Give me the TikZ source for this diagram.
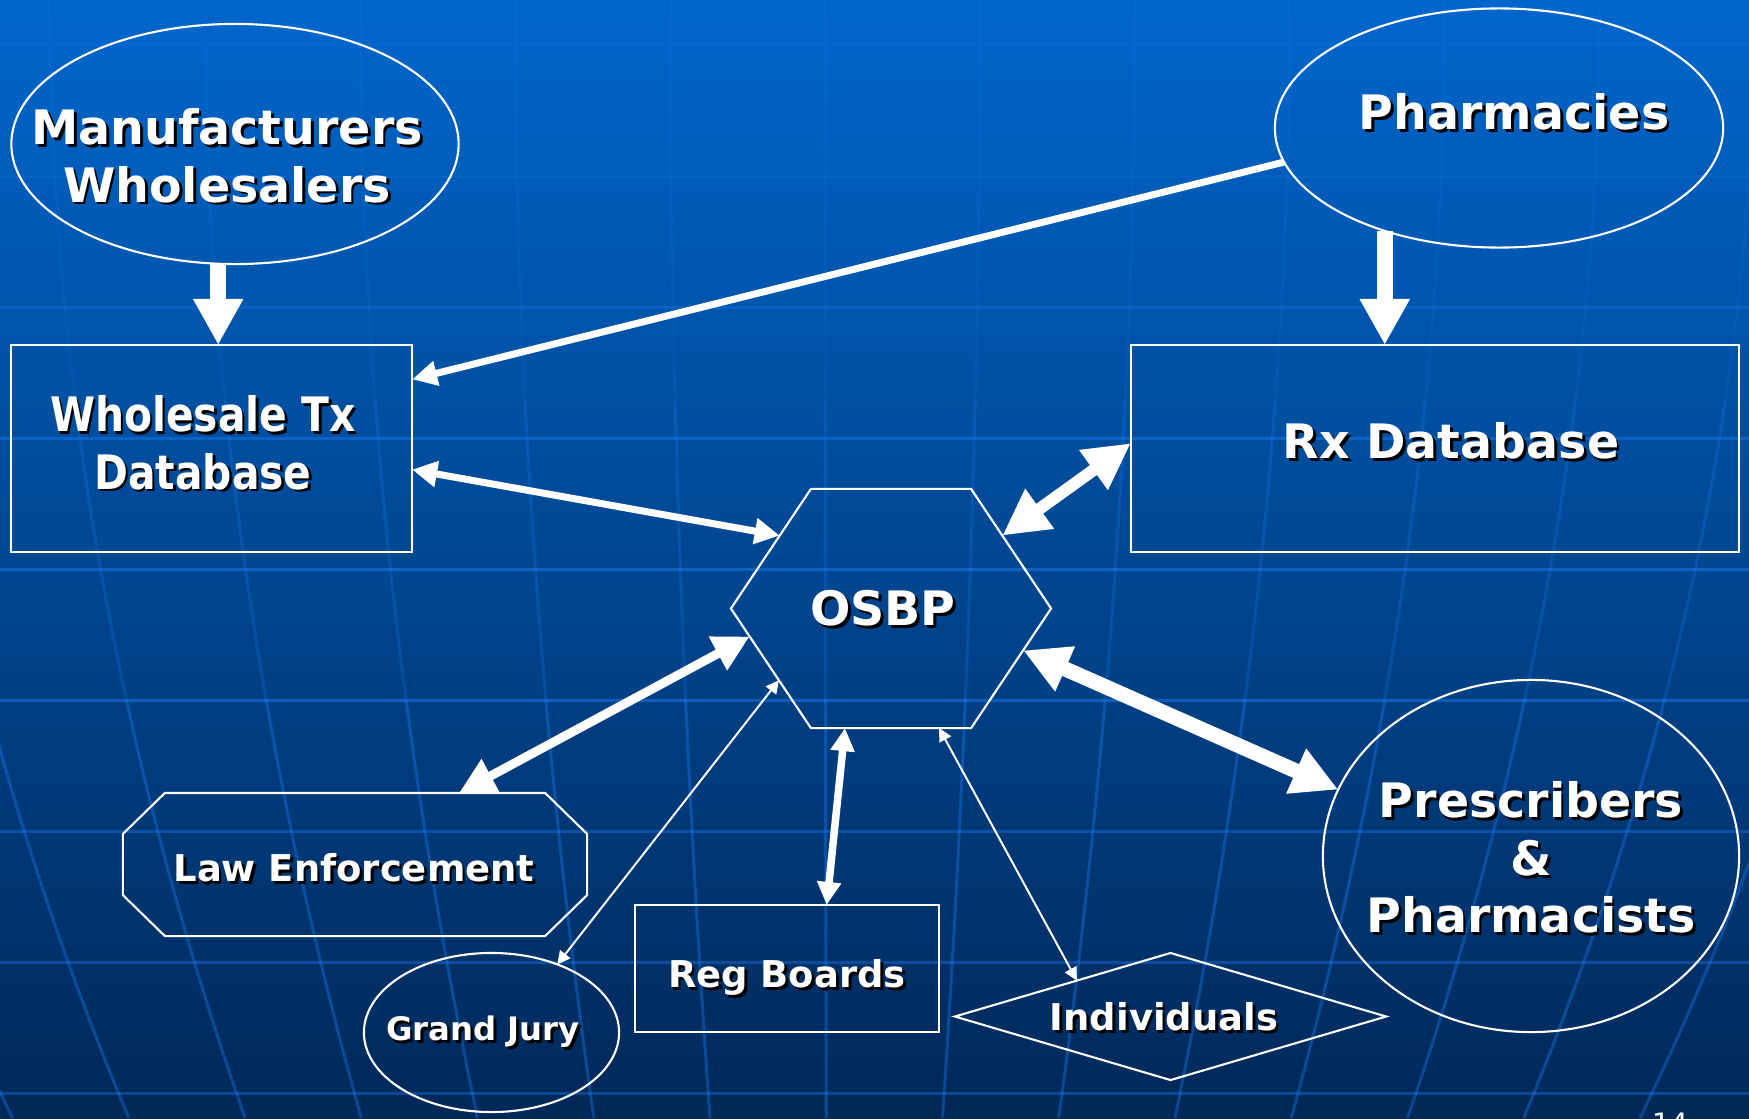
\documentclass[tikz,border=0pt]{standalone}
\usepackage{fontspec}
\setmainfont{DejaVu Sans}
\usepackage{xcolor}
\usepackage{graphicx}
\usetikzlibrary{shapes.geometric,arrows.meta,calc}
\definecolor{SlideTop}{RGB}{0,102,204}
\definecolor{SlideMid}{RGB}{0,76,155}
\definecolor{SlideBot}{RGB}{0,40,88}
\definecolor{GridBlue}{RGB}{30,130,255}
\newcommand{\shd}[1]{\leavevmode\rlap{\kern0.8pt\raisebox{-0.8pt}{\color{black}#1}}#1}

\begin{document}
\begin{tikzpicture}
    [x=0.01cm, y=-0.01cm,
 every node/.style={inner sep=0pt, outer sep=0pt},
 oval/.style ={ellipse, draw=white, line width=0.6pt},
 box/.style ={rectangle, draw=white, line width=0.7pt},
 outline/.style ={draw=white, line width=0.6pt, line join=miter},
 rhomb/.style ={diamond, draw=white, line width=0.6pt, aspect=3.39},
 bigtext/.style ={text=white, font=\fontsize{13.5}{16.4}\selectfont\bfseries, align=center},
 midtext/.style ={text=white, font=\fontsize{10.5}{12.6}\selectfont\bfseries, align=center},
 smalltext/.style ={text=white, font=\fontsize{9.2}{11}\selectfont\bfseries, align=center},
 gridline/.style ={GridBlue, line width=0.03cm},
 blockarrow/.style ={draw=white, line width=0.16cm, -{Triangle[width=0.47cm,length=0.46cm]}},
 feed/.style ={draw=white, line width=0.07cm, -{Triangle[width=0.24cm,length=0.25cm]}},
 both/.style 2 args ={draw=white, line width=#1, {Triangle[width=#2,length=#2]}-{Triangle[width=#2,length=#2]}}]

    \useasboundingbox (0,0) rectangle (1749,1118);
    \shade[top color=SlideTop, middle color=SlideMid, bottom color=SlideBot] (0,0) rectangle (1749,1118);

    % globe grid
    \foreach \gy/\op in {45/0.1,176/0.15,307/0.25,438/0.4,569/0.45,700/0.45,831/0.35,962/0.35,1093/0.35}
        \draw[gridline, opacity=\op] (0,\gy) -- (1749,\gy);
    \foreach \gd in {-1245,-1090,...,1235} {
        \draw[gridline, opacity=0.1] plot[domain=0:400, samples=8, smooth] ({830+\gd*(1-0.25*(\x/1118)^2)},\x);
        \draw[gridline, opacity=0.22] plot[domain=400:700, samples=8, smooth] ({830+\gd*(1-0.25*(\x/1118)^2)},\x);
        \draw[gridline, opacity=0.35] plot[domain=700:1118, samples=10, smooth] ({830+\gd*(1-0.25*(\x/1118)^2)},\x);
    }

    \node[oval, minimum width=4.47cm, minimum height=2.40cm] (mfr) at (235,144) {};
    \node[oval, minimum width=4.48cm, minimum height=2.39cm] (pharm) at (1499,128) {};
    \node[box, minimum width=4.01cm, minimum height=2.07cm] (wtx) at (211.5,448.5) {};
    \node[box, minimum width=6.08cm, minimum height=2.07cm] (rx) at (1435,448.5) {};
    \node[minimum width=3.2cm, minimum height=2.39cm] (osbp) at (891,608.5) {};
    \node[minimum width=4.64cm, minimum height=1.43cm] (law) at (355,864.5) {};
    \node[oval, minimum width=2.55cm, minimum height=1.59cm] (gj) at (491.5,1032.5) {};
    \node[box, minimum width=3.04cm, minimum height=1.27cm] (reg) at (787,968.5) {};
    \node[rhomb, minimum width=4.31cm, minimum height=1.27cm] (indiv) at (1170.5,1016.5) {};
    \node[oval, minimum width=4.16cm, minimum height=3.52cm] (presc) at (1531,856) {};

    % hexagon and octagon outlines
    \coordinate (osbp-nw) at ($(osbp.north west)+(80,0)$);
    \coordinate (osbp-ne) at ($(osbp.north east)+(-80,0)$);
    \coordinate (osbp-se) at ($(osbp.south east)+(-80,0)$);
    \coordinate (osbp-sw) at ($(osbp.south west)+(80,0)$);
    \draw[outline] (osbp.west) -- (osbp-nw) -- (osbp-ne) -- (osbp.east) -- (osbp-se) -- (osbp-sw) -- cycle;
    \draw[outline] ($(law.north west)+(42,0)$) -- ($(law.north east)+(-42,0)$) -- ($(law.north east)+(0,41)$)
        -- ($(law.south east)+(0,-41)$) -- ($(law.south east)+(-42,0)$) -- ($(law.south west)+(42,0)$)
        -- ($(law.south west)+(0,-41)$) -- ($(law.north west)+(0,41)$) -- cycle;

    \node[bigtext] (mfrtext) at (227,157) {\shd{Manufacturers}\\\shd{Wholesalers}};
    \node[bigtext] (pharmtext) at (1514,113) {\shd{Pharmacies}};
    \node[bigtext] (wtxtext) at (203,444) {\scalebox{0.86}[1]{\shd{Wholesale Tx}}\\\scalebox{0.86}[1]{\shd{Database}}};
    \node[bigtext] (rxtext) at (1451,442) {\shd{Rx Database}};
    \node[bigtext] (osbptext) at (883,610) {\shd{OSBP}};
    \node[midtext] (lawtext) at (354,869) {\shd{Law Enforcement}};
    \node[midtext] (regtext) at (787,979) {\shd{Reg Boards}};
    \node[smalltext] (gjtext) at (483,1033) {\shd{Grand Jury}};
    \node[midtext] (indivtext) at (1164,1018) {\shd{Individuals}};
    \node[bigtext] (presctext) at (1531,859) {\shd{Prescribers}\\\shd{\&}\\\shd{Pharmacists}};
    \node[text=white, font=\fontsize{8}{9}\selectfont, anchor=north] (pagenum) at (1670,1113) {14};

    \draw[blockarrow] (mfr.262.4) -- (mfr.262.4 |- wtx.north);
    \draw[blockarrow] (pharm.222.3) -- (pharm.222.3 |- rx.north);
    \draw[feed] (pharm.189.75) -- (wtx.19.6);
    \draw[both={0.07cm}{0.25cm}] (wtx.-6.9) -- ($(osbp.west)!0.61!(osbp-nw)$);
    \draw[both={0.12cm}{0.46cm}] ($(osbp.east)!0.61!(osbp-ne)$) -- (rx.179);
    \draw[both={0.09cm}{0.36cm}] ($(osbp.west)!0.234!(osbp-sw)$) -- ($(law.north)+(104,0)$);
    \draw[both={0.15cm}{0.46cm}] ($(osbp.east)!0.35!(osbp-se)$) -- (presc.161.7);
    \draw[both={0.075cm}{0.23cm}] ($(osbp-sw)!0.2125!(osbp-se)$) -- (reg.58);
    \draw[both={0.02cm}{0.13cm}] ($(osbp.west)!0.6!(osbp-sw)$) -- (gj.46.8);
    \draw[both={0.02cm}{0.13cm}] ($(osbp-sw)!0.8!(osbp-se)$) -- (indiv.159.8);
\end{tikzpicture}
\end{document}
